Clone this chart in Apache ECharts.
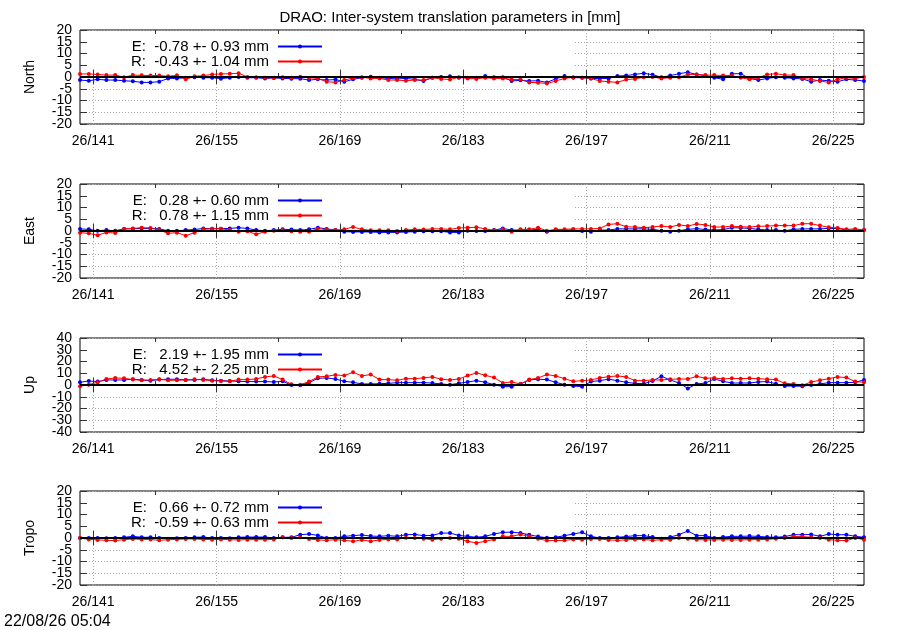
<!DOCTYPE html>
<html>
<head>
<meta charset="utf-8">
<script src="https://cdn.jsdelivr.net/npm/echarts@6/dist/echarts.min.js"></script>
<style>
  html, body { margin: 0; padding: 0; background: #fff; }
  #chart { width: 900px; height: 630px; }
</style>
</head>
<body>
<div id="chart"></div>
<script>
// day of year of each daily solution (plotted at noon)
const doy = [139, 140, 141, 142, 143, 144, 145, 146, 147, 148,
  149, 150, 151, 152, 153, 154, 155, 156, 157, 158,
  159, 160, 161, 162, 163, 164, 165, 166, 167, 168,
  169, 170, 171, 172, 173, 174, 175, 176, 177, 178,
  179, 180, 181, 182, 183, 184, 185, 186, 187, 188,
  189, 190, 191, 192, 193, 194, 195, 196, 197, 198,
  199, 200, 201, 202, 203, 204, 205, 206, 207, 208,
  209, 210, 211, 212, 213, 214, 215, 216, 217, 218,
  219, 220, 221, 222, 223, 224, 225, 226, 227, 228];

// North [mm]
const northE = [-1.3, -1.6, -1.0, -1.3, -1.3, -1.6, -1.8, -2.3, -2.3, -2.0,
  -0.6, -0.6, -0.3, -0.1, -0.3, -0.3, -0.7, -0.3, 0.0, -0.3,
  -0.3, -0.6, -0.4, -0.6, -0.7, -0.7, -1.3, -1.0, -1.3, -1.1,
  -2.0, -1.0, -0.3, 0.1, -0.3, -0.6, -0.8, -0.6, -1.0, -1.7,
  -0.3, 0.0, 0.3, -0.3, -0.3, -0.3, 0.4, -0.1, -0.1, -1.7,
  -1.4, -1.7, -1.6, -2.3, -0.8, 0.4, -0.3, -0.3, -0.6, -0.7,
  -0.6, 0.4, 0.6, 1.1, 1.6, 1.0, -0.1, 0.6, 1.4, 2.0,
  1.1, 0.6, -0.3, -1.0, 1.4, 1.4, -0.6, -1.3, -0.6, -0.1,
  -0.3, -0.6, -0.8, -2.0, -1.3, -1.6, -2.0, -1.0, -1.3, -1.7];
const northR = [1.3, 1.3, 1.1, 0.8, 0.8, -0.1, 0.8, 0.7, 0.6, 0.6,
  0.3, 0.7, -1.0, 0.3, 0.6, 1.1, 1.3, 1.4, 1.6, 0.0,
  -0.1, -0.3, -0.3, -0.1, -0.3, 0.1, -0.3, -0.6, -2.0, -2.3,
  -1.3, -0.4, -0.1, -0.6, -0.6, -1.3, -1.3, -1.6, -1.3, -1.3,
  -0.3, -0.8, -1.1, -0.1, -0.6, -0.8, -0.3, -0.6, -0.6, -1.0,
  -1.1, -2.3, -2.4, -2.8, -1.7, -0.6, -0.1, -0.3, -0.6, -1.7,
  -2.0, -2.3, -1.1, -0.8, -0.1, 0.0, -0.6, -0.3, -0.1, 1.1,
  1.1, 0.8, 0.8, 0.6, 0.6, -0.3, -1.0, -0.3, 1.1, 1.4,
  0.8, 0.8, -0.6, -1.0, -1.7, -2.3, -1.0, -0.3, -0.6, 0.0];

// East [mm]
const eastE = [0.9, 0.7, 0.1, 0.4, 0.1, 0.9, 1.0, 1.1, 1.1, 0.9,
  0.1, 0.1, 0.4, 0.6, 1.1, 1.0, 1.0, 1.1, 1.4, 1.1,
  0.4, 0.1, 0.4, 0.7, 0.6, 0.4, 0.7, 1.4, 0.9, 0.4,
  -0.3, -0.4, -0.4, -0.4, -0.6, -0.6, -0.6, -0.4, -0.3, -0.1,
  -0.1, -0.1, -0.6, -0.6, 0.1, 0.0, 0.0, 0.4, 1.1, 0.4,
  0.4, 0.4, 0.7, -0.3, 0.4, 0.4, 0.4, 0.0, -0.3, 0.4,
  0.4, 0.9, 0.9, 0.9, 0.9, 0.7, 0.1, -0.3, 0.1, 0.7,
  1.0, 0.6, 0.4, 0.6, 1.4, 1.3, 1.1, 0.7, 0.4, 0.4,
  0.1, 0.7, 0.9, 0.9, 0.9, 1.1, 1.1, 0.4, 0.4, 0.4];
const eastR = [-0.7, -1.0, -1.8, -0.6, -0.9, 0.9, 1.1, 1.4, 1.3, 0.4,
  -1.0, -0.7, -2.0, -0.7, 0.7, 1.0, 1.0, 0.4, -0.3, -0.1,
  -1.4, -0.3, 0.1, 0.3, -0.1, -0.3, -0.3, 1.0, 0.6, 0.4,
  0.7, 1.7, 0.7, 0.3, 0.3, 0.3, 0.0, 0.4, 0.7, 0.6,
  0.9, 0.9, 0.7, 1.3, 1.4, 1.6, 0.9, 0.3, 0.7, -0.3,
  0.7, 0.7, 1.4, 0.1, 0.7, 0.7, 0.9, 0.9, 0.9, 1.1,
  2.8, 3.1, 1.8, 1.7, 1.4, 1.7, 2.1, 1.7, 2.6, 2.1,
  3.0, 2.6, 1.7, 1.7, 2.1, 1.8, 1.7, 2.0, 2.1, 2.3,
  2.3, 2.3, 3.1, 3.1, 2.3, 1.6, 1.3, 0.7, 0.9, 0.4];

// Up [mm]
const upE = [2.3, 3.4, 2.9, 4.3, 4.3, 4.3, 4.9, 4.3, 3.7, 4.6,
  4.9, 4.9, 4.3, 4.3, 4.9, 4.0, 3.7, 3.4, 3.1, 2.9,
  2.9, 2.9, 2.6, 3.1, 0.0, -0.3, 2.0, 5.7, 6.0, 5.1,
  3.1, 2.3, 0.9, 0.9, 1.1, 1.4, 2.0, 2.0, 2.0, 2.0,
  1.7, 0.9, 0.3, 1.4, 2.6, 3.7, 2.3, 0.3, -1.4, -1.4,
  0.9, 4.3, 4.9, 4.6, 2.3, 0.3, -0.9, -1.4, 2.9, 3.7,
  4.9, 3.7, 2.3, 1.4, 1.1, 3.4, 7.4, 4.3, 1.7, -2.9,
  0.9, 1.7, 5.1, 3.1, 1.7, 1.7, 1.7, 2.6, 2.9, 1.1,
  -0.9, -0.9, -1.1, 0.0, 0.9, 2.0, 2.0, 2.0, 2.3, 4.3];
const upR = [-1.1, 0.3, 2.3, 5.1, 6.0, 5.7, 4.6, 4.0, 4.3, 4.9,
  4.0, 4.0, 4.3, 4.9, 4.3, 3.7, 3.4, 3.1, 4.6, 4.6,
  5.1, 6.9, 7.7, 4.6, 0.6, 0.3, 2.9, 6.9, 7.4, 8.6,
  8.0, 10.9, 7.7, 8.9, 4.6, 4.6, 4.0, 5.4, 5.4, 6.0,
  6.9, 4.9, 4.3, 5.1, 8.0, 10.3, 8.3, 6.3, 1.7, 2.6,
  0.9, 4.6, 6.0, 8.9, 7.7, 5.4, 3.1, 3.7, 4.3, 6.0,
  7.1, 7.7, 6.9, 3.7, 3.7, 4.3, 4.3, 4.9, 5.1, 5.1,
  7.4, 5.7, 6.0, 5.1, 5.7, 5.4, 5.7, 5.4, 4.9, 4.6,
  1.4, 0.9, -0.3, 2.6, 4.0, 5.4, 6.9, 6.3, 2.9, 2.3];

// Tropo [mm]
const tropoE = [0.0, 0.0, 0.0, -0.1, 0.0, 0.3, 0.7, 0.3, 0.3, 0.0,
  -0.3, -0.1, 0.0, 0.3, 0.4, 0.0, 0.0, -0.1, 0.3, 0.4,
  0.4, 0.4, 0.0, 0.3, 0.3, 1.4, 1.7, 1.1, 0.0, 0.0,
  0.7, 1.0, 1.3, 0.8, 0.7, 1.0, 0.7, 1.4, 1.5, 1.0,
  1.1, 2.1, 2.1, 1.1, 0.7, 0.3, 0.7, 1.7, 2.4, 2.5,
  2.1, 1.4, 0.6, 0.1, 0.3, 1.0, 1.7, 2.4, 0.7, 0.0,
  0.0, 0.3, 0.6, 1.0, 1.0, 0.4, -0.3, 0.4, 1.4, 3.0,
  1.0, 1.0, 0.0, 0.4, 0.7, 0.7, 0.8, 0.7, 0.4, 0.3,
  0.6, 1.4, 1.4, 1.5, 0.7, 1.7, 1.4, 1.4, 0.7, 0.3];
const tropoR = [0.0, -0.6, -0.8, -1.0, -1.1, -0.7, -0.4, -0.6, -0.6, -1.0,
  -0.7, -0.6, -0.4, -0.4, -0.6, -0.7, -0.6, -0.7, -0.8, -0.7,
  -0.7, -0.7, -0.6, 0.3, 0.0, 0.3, -0.4, -0.8, -1.0, -0.7,
  -1.0, -1.4, -0.8, -1.4, -0.8, -0.6, -0.6, 0.1, 0.0, -0.3,
  -0.7, -0.3, 0.0, -0.3, -1.4, -2.1, -1.4, -0.6, 0.7, 0.7,
  1.5, 0.7, -0.3, -1.1, -1.1, -1.0, -0.6, -0.7, -0.4, -0.4,
  -0.8, -1.0, -0.8, -0.6, -0.6, -1.0, -0.7, -0.7, 0.0, -0.3,
  -0.7, -0.8, -0.8, -0.7, -0.8, -0.8, -0.7, -0.7, -0.6, -0.3,
  0.0, 0.6, 0.6, 0.3, 0.0, -0.7, -1.0, -1.1, 0.0, -0.7];

const panelNames = ["North", "East", "Up", "Tropo"];
const panelE = [northE, eastE, upE, tropoE];
const panelR = [northR, eastR, upR, tropoR];
const yLimits = [20, 20, 40, 20];
const ySteps = [5, 5, 10, 5];
// y tick labels, split in two sets so that the tightly packed labels all stay visible
const yLabelsA = [[-20, -10, 0, 10, 20], [-20, -10, 0, 10, 20], [-40, -20, 0, 20, 40], [-20, -10, 0, 10, 20]];
const yLabelsB = [[-15, -5, 5, 15], [-15, -5, 5, 15], [-30, -10, 10, 30], [-15, -5, 5, 15]];
const legendE = ["E:  -0.78 +- 0.93 mm", "E:   0.28 +- 0.60 mm", "E:   2.19 +- 1.95 mm", "E:   0.66 +- 0.72 mm"];
const legendR = ["R:  -0.43 +- 1.04 mm", "R:   0.78 +- 1.15 mm", "R:   4.52 +- 2.25 mm", "R:  -0.59 +- 0.63 mm"];
const majorDays = [141, 155, 169, 183, 197, 211, 225];
const minorDays = [148, 162, 176, 190, 204, 218];
const yearPrefix = "26/";
const titleText = "DRAO: Inter-system translation parameters in [mm]";
const stampText = "22/08/26 05:04";

const FONT = '"Liberation Sans", Arial, Helvetica, sans-serif';
const gridTops = [30, 184, 338, 491];
const gridH = 94;
const xMin = 139.5, xMax = 228.5;
const tickColor = "#333";
const gridLine = { show: true, lineStyle: { color: "#a8a8a8", width: 1, type: [1, 2] } };

const grids = [], xAxes = [], yAxes = [], series = [], legends = [], graphics = [];

panelNames.forEach((name, p) => {
  grids.push({
    left: 80, right: 36, top: gridTops[p], height: gridH,
    show: true, borderColor: "#000", borderWidth: 1, backgroundColor: "transparent",
  });

  // x axes: bottom major (labels + grid), bottom minor, top major, top minor
  const xBase = (position, ticks, len, z) => ({
    type: "value", gridIndex: p, min: xMin, max: xMax, position, z,
    axisLine: { show: false },
    splitLine: { show: false },
    axisLabel: { show: false },
    axisTick: { show: true, inside: true, length: len, customValues: ticks, lineStyle: { color: tickColor } },
  });
  const xMain = xBase("bottom", majorDays, 7, 0);
  xMain.axisLabel = {
    show: true, customValues: majorDays, margin: 10,
    fontFamily: FONT, fontSize: 14, color: "#000",
    formatter: v => yearPrefix + v,
  };
  xMain.splitLine = gridLine;
  xAxes.push(xMain, xBase("bottom", minorDays, 4, 0), xBase("top", majorDays, 7, 3), xBase("top", minorDays, 4, 3));

  // y axes: left labels + ticks, right ticks + grid, extra left labels
  const lim = yLimits[p];
  const yLabel = vals => ({
    margin: 8, fontFamily: FONT, fontSize: 14, color: "#000",
    customValues: vals, showMinLabel: true, showMaxLabel: true, hideOverlap: false,
  });
  yAxes.push({
    type: "value", gridIndex: p, min: -lim, max: lim, interval: ySteps[p], position: "left", z: 3,
    name, nameLocation: "middle", nameGap: 43,
    nameTextStyle: { fontFamily: FONT, fontSize: 14, color: "#000" },
    axisLine: { show: false },
    axisTick: { show: true, inside: true, length: 7, lineStyle: { color: tickColor } },
    axisLabel: yLabel(yLabelsA[p]),
    splitLine: { show: false },
  }, {
    type: "value", gridIndex: p, min: -lim, max: lim, interval: ySteps[p], position: "right", z: 0,
    axisLine: { show: false },
    axisTick: { show: true, inside: true, length: 7, lineStyle: { color: tickColor } },
    axisLabel: { show: false },
    splitLine: gridLine,
  }, {
    type: "value", gridIndex: p, min: -lim, max: lim, interval: ySteps[p], position: "left", z: 3,
    axisLine: { show: false },
    axisTick: { show: false },
    axisLabel: yLabel(yLabelsB[p]),
    splitLine: { show: false },
  });

  const lineSeries = (label, values, color) => ({
    type: "line", name: label,
    xAxisIndex: p * 4, yAxisIndex: p * 3,
    data: doy.map((d, i) => [d + 0.5, values[i]]),
    symbol: "circle", symbolSize: 4, showAllSymbol: true,
    lineStyle: { color, width: 1 },
    itemStyle: { color },
    silent: true, z: 2,
  });
  const eSeries = lineSeries(legendE[p], panelE[p], "#0000ff");
  // zero line
  eSeries.markLine = {
    silent: true, symbol: "none", label: { show: false },
    lineStyle: { color: "#000", width: 2, type: "solid" },
    data: [{ yAxis: 0 }],
  };
  series.push(eSeries, lineSeries(legendR[p], panelR[p], "#ff0000"));

  legends.push({
    data: [legendE[p], legendR[p]],
    orient: "vertical", align: "right",
    right: 577, top: gridTops[p] + 9,
    padding: 0, itemGap: 0, itemWidth: 44, itemHeight: 5,
    selectedMode: false,
    textStyle: { fontFamily: FONT, fontSize: 15, color: "#000", lineHeight: 14, padding: [0, 4, 0, 0] },
  });

  // opaque key box hides the grid behind the legend
  graphics.push({
    type: "rect", z: 1, silent: true,
    shape: { x: 81, y: gridTops[p] + 1, width: 492, height: 38 },
    style: { fill: "#fff" },
  });
});

graphics.push({
  type: "text", left: 4, top: 614, z: 5,
  style: { text: stampText, font: "16px " + FONT, fill: "#000" },
});

const chart = echarts.init(document.getElementById("chart"));
chart.setOption({
  animation: false,
  backgroundColor: "#fff",
  title: {
    text: titleText, left: "center", top: 5,
    textStyle: { fontFamily: FONT, fontSize: 15, fontWeight: "normal", color: "#000" },
  },
  grid: grids,
  xAxis: xAxes,
  yAxis: yAxes,
  legend: legends,
  graphic: graphics,
  series,
});
</script>
</body>
</html>
